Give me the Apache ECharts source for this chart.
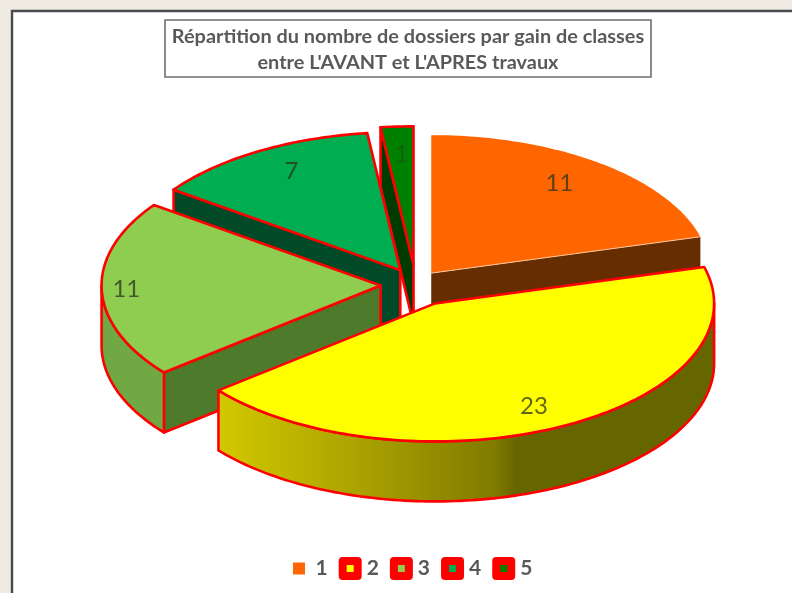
<!DOCTYPE html>
<html><head><meta charset="utf-8">
<style>html,body{margin:0;padding:0;background:#efebe2;overflow:hidden}#c{width:792px;height:593px;filter:blur(0.5px)}</style>
<script src="https://cdn.jsdelivr.net/npm/echarts@6/dist/echarts.min.js"></script>
</head><body><div id="c"></div>
<script>
// ---- data ----
const categories = ['1', '2', '3', '4', '5'];
const values = [11, 23, 11, 7, 1];
const titleLines = ["Répartition du nombre de dossiers par gain de classes", "entre L'AVANT et L'APRES travaux"];

// ---- look ----
const topColors = ['#ff6600', '#ffff00', '#8fcd50', '#00ad50', '#008000'];
const wallColors = ['#662e00', '#666600', '#4e7a2c', '#004a28', '#003c00'];
const rimColors = ['#662e00', null, '#70a844', '#004a28', '#003c00'];
const strokeColors = ['none', '#ff0000', '#ff0000', '#ff0000', '#ff0000'];
const explode = [0.09, 0.15, 0.127, 0.125, 0.15];
const nudgeX = [0, 0, 0, 2, 0];
const nudgeY = [-2, 0, 0, 0, 0];
const labelReach = [0.78, 0.8, 0.94, 0.79, 0.76];
const labelFill = ['rgba(40,50,30,0.75)', 'rgba(40,50,30,0.75)', 'rgba(40,50,30,0.75)', 'rgba(40,50,30,0.75)', 'rgba(40,50,30,0.35)'];
const paintOrder = [3, 5, 4, 2, 1];
const cx = 416, cy = 285, rx = 279, ry = 138, depth = 60;
const total = values.reduce((a, b) => a + b, 0);

function sliceAngles(i) {
  let a = 0;
  for (let k = 0; k < i; k++) a += values[k];
  return [a / total * 2 * Math.PI, (a + values[i]) / total * 2 * Math.PI];
}
function arcPoints(ax, ay, t0, t1, dy) {
  const n = Math.max(2, Math.ceil((t1 - t0) / 0.02)), pts = [];
  for (let j = 0; j <= n; j++) {
    const t = t0 + (t1 - t0) * j / n;
    pts.push([ax + rx * Math.sin(t), ay - ry * Math.cos(t) + dy]);
  }
  return pts;
}
function renderSlice(i) {
  return function (params, api) {
    const v = api.value(0);
    const [t0, t1] = sliceAngles(i);
    const mid = (t0 + t1) / 2, e = explode[i];
    const ax = cx + nudgeX[i] + rx * e * Math.sin(mid), ay = cy + nudgeY[i] - ry * e * Math.cos(mid);
    const stroke = strokeColors[i], lw = 2.6;
    const kids = [];
    const poly = (points, fill, st, w) => kids.push({
      type: 'polygon', shape: { points }, style: { fill, stroke: st === undefined ? stroke : st, lineWidth: w || lw, lineJoin: 'round' }
    });
    // wall of the radius edge that faces the viewer
    const wallT = i === 0 ? t1 : (i === 1 ? null : t0);
    if (wallT !== null) {
      const ex = ax + rx * Math.sin(wallT), ey = ay - ry * Math.cos(wallT);
      poly([[ax, ay], [ex, ey], [ex, ey + depth], [ax, ay + depth]], wallColors[i]);
    }
    // outer rim where it faces the viewer
    const r0 = Math.max(t0, Math.PI / 2), r1 = Math.min(t1, 3 * Math.PI / 2);
    if (r1 > r0) {
      const top = arcPoints(ax, ay, r0, r1, 0), bot = arcPoints(ax, ay, r0, r1, depth).reverse();
      const xs = top.map(p => p[0]);
      const minX = Math.min(...xs), maxX = Math.max(...xs);
      const fill = rimColors[i] || new echarts.graphic.LinearGradient(minX, 0, maxX, 0, [
        { offset: 0, color: '#d2c800' }, { offset: 0.3, color: '#a8a000' },
        { offset: 0.56, color: '#807a00' }, { offset: 0.6, color: '#666600' }, { offset: 1, color: '#666600' }
      ], true);
      poly(top.concat(bot), fill);
    }
    // top face
    poly([[ax, ay]].concat(arcPoints(ax, ay, t0, t1, 0)), topColors[i]);
    if (i === 0) {
      const ex = ax + rx * Math.sin(t1), ey = ay - ry * Math.cos(t1);
      kids.push({ type: 'line', shape: { x1: ax, y1: ay, x2: ex, y2: ey }, style: { stroke: '#ffc39a', lineWidth: 1 } });
    }
    // value label
    const reach = labelReach[i];
    kids.push({
      type: 'text',
      style: {
        text: String(v), x: ax + rx * reach * 0.97 * Math.sin(mid), y: ay - ry * reach * 1.05 * Math.cos(mid),
        align: 'center', verticalAlign: 'middle', fill: labelFill[i],
        font: '24px Lato, sans-serif'
      }
    });
    return { type: 'group', children: kids };
  };
}

const chart = echarts.init(document.getElementById('c'), null, { renderer: 'canvas' });
chart.setOption({
  animation: false,
  backgroundColor: '#efebe2',
  graphic: [
    { type: 'rect', z: -10, shape: { x: 12, y: 11, width: 800, height: 600 }, style: { fill: '#ffffff', stroke: '#4a4a4e', lineWidth: 2.4 } }
  ],
  title: {
    text: titleLines.join('\n'),
    left: 401, top: 20,
    textAlign: 'center',
    padding: [4, 7, 1, 7],
    borderColor: '#6e6e6e', borderWidth: 1.6,
    backgroundColor: '#fff',
    textStyle: { fontFamily: 'Lato, sans-serif', fontWeight: 'bold', fontSize: 19.9, color: '#595959', lineHeight: 26 }
  },
  legend: {
    bottom: 8, left: 285,
    itemWidth: 15, itemHeight: 15, itemGap: 11,
    icon: 'rect',
    selectedMode: false,
    textStyle: { fontFamily: 'Lato, sans-serif', fontWeight: 'bold', fontSize: 21, color: '#595959', padding: [0, 0, 0, 4] },
    data: categories.map((c, i) => ({
      name: c,
      itemStyle: i === 0
        ? { color: topColors[0], borderColor: '#fff', borderWidth: 3 }
        : { color: topColors[i], borderColor: '#ff0000', borderWidth: 8, borderJoin: 'round' }
    }))
  },
  series: categories.map((c, i) => ({
    type: 'custom', name: c, coordinateSystem: 'none', z: paintOrder[i], silent: true,
    data: [[values[i]]],
    renderItem: renderSlice(i)
  }))
});
</script></body></html>
